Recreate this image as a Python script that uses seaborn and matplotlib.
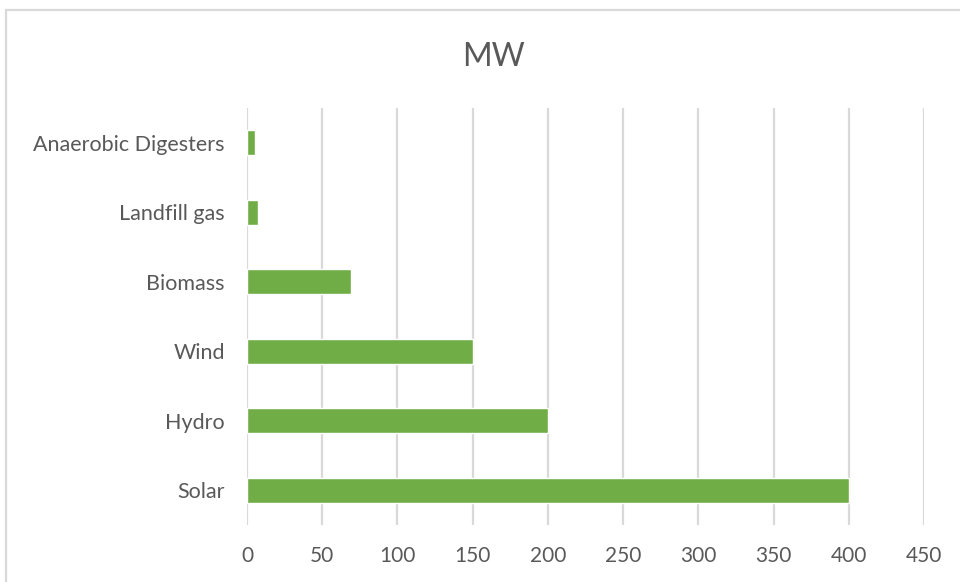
import matplotlib
matplotlib.use('Agg')
import matplotlib.pyplot as plt
import pandas as pd
import seaborn as sns
from matplotlib.patches import Rectangle

# Data
sources = ['Anaerobic Digesters', 'Landfill gas', 'Biomass', 'Wind', 'Hydro', 'Solar']
mw = [5, 7, 69, 150, 200, 400]
x_ticks = [0, 50, 100, 150, 200, 250, 300, 350, 400, 450]

df = pd.DataFrame({'source': sources, 'MW': mw})

sns.set_style('white')
plt.rcParams['font.family'] = ['Lato', 'DejaVu Sans']

text_color = '#595959'
grid_color = '#D9D9D9'
bar_color = '#70AD47'

fig = plt.figure(figsize=(9.6, 5.82), dpi=100)
ax = fig.add_axes([247 / 960, 57 / 582, 677 / 960, 417 / 582])

sns.barplot(data=df, x='MW', y='source', order=sources, color=bar_color,
            width=0.36, saturation=1, ax=ax)

ax.set_xlim(0, 450)
ax.set_xticks(x_ticks)
ax.set_xlabel('')
ax.set_ylabel('')
ax.grid(axis='x', color=grid_color, linewidth=1.6)
ax.set_axisbelow(True)
for s in ax.spines.values():
    s.set_visible(False)
ax.tick_params(axis='x', length=0, pad=15, labelsize=15, labelcolor=text_color)
ax.tick_params(axis='y', length=0, pad=16, labelsize=15.5, labelcolor=text_color)

fig.text(0.514, 1 - 57 / 582, 'MW', ha='center', va='center',
         fontsize=23, color=text_color)

# chart frame
fig.patches.append(Rectangle((6 / 960, -0.1), 1.2, 1.1 - 10 / 582,
                             transform=fig.transFigure, fill=False,
                             edgecolor=grid_color, linewidth=1.6))

fig.savefig('out.png', dpi=100)
